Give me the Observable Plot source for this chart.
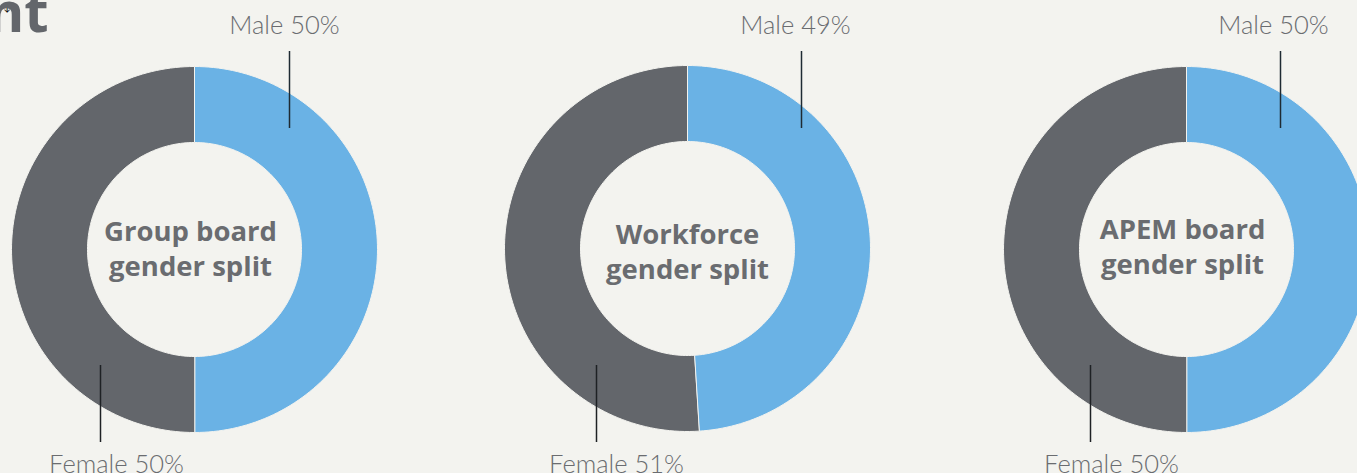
<!DOCTYPE html>
<html>
<head>
<meta charset="utf-8">
<script src="https://cdn.jsdelivr.net/npm/d3@7"></script>
<script src="https://cdn.jsdelivr.net/npm/@observablehq/plot@0.6"></script>
<style>
  html, body { margin: 0; padding: 0; background: #f3f3ef; overflow: hidden; }
</style>
</head>
<body>
<div id="chart"></div>
<script>
// ---- data ----
const charts = ["Group board\ngender split", "Workforce\ngender split", "APEM board\ngender split"];
const genders = ["Male", "Female"];
const maleValues = [50, 49, 50];
const femaleValues = [50, 51, 50];
const titleFragment = "nt";

// ---- layout ----
const W = 1357, H = 473;
const bg = "#f3f3ef";
const blue = "#6ab2e5";
const gray = "#63666b";
const textGray = "#6a6c70";
const centersX = [194, 687, 1186];
const centersY = [249, 248, 249];
const rOuter = 183, rInner = 107;
const maleLineX = [95, 114, 94];
const femaleLineX = [-94, -91, -96];
const maleLabelDX = [-5, -6, -7];
const femaleLabelDX = [16, 20, 21];
const centerTextDX = [-4, 0, -4];
const centerTextDY = [-2, 2, -4];

// build arc polygons from values
const arcs = [];
charts.forEach((c, i) => {
  const vals = [maleValues[i], femaleValues[i]];
  const total = d3.sum(vals);
  let a = 0;
  vals.forEach((v, j) => {
    const a0 = a, a1 = a + (v / total) * 2 * Math.PI;
    a = a1;
    const key = i + "-" + genders[j];
    const n = 120;
    for (let k = 0; k <= n; k++) {
      const t = a0 + (a1 - a0) * k / n;
      arcs.push({key, gender: genders[j], x: centersX[i] + rOuter * Math.sin(t), y: centersY[i] - rOuter * Math.cos(t)});
    }
    for (let k = n; k >= 0; k--) {
      const t = a0 + (a1 - a0) * k / n;
      arcs.push({key, gender: genders[j], x: centersX[i] + rInner * Math.sin(t), y: centersY[i] - rInner * Math.cos(t)});
    }
  });
});

const centerLabels = charts.map((c, i) => ({text: c, x: centersX[i] + centerTextDX[i], y: centersY[i] + centerTextDY[i]}));
const maleLabels = charts.map((c, i) => ({text: `Male ${maleValues[i]}%`, x: centersX[i] + maleLineX[i] + maleLabelDX[i], lx: centersX[i] + maleLineX[i]}));
const femaleLabels = charts.map((c, i) => ({text: `Female ${femaleValues[i]}%`, x: centersX[i] + femaleLineX[i] + femaleLabelDX[i], lx: centersX[i] + femaleLineX[i]}));

const plot = Plot.plot({
  width: W,
  height: H,
  margin: 0,
  x: {type: "identity"},
  y: {type: "identity"},
  color: {domain: genders, range: [blue, gray]},
  style: {background: bg, fontFamily: "Lato, 'Open Sans', sans-serif"},
  marks: [
    Plot.line(arcs, {x: "x", y: "y", z: "key", fill: "gender", stroke: bg, strokeWidth: 1, curve: "linear-closed"}),
    Plot.ruleX(maleLabels, {x: "lx", y1: 51, y2: 128, stroke: "#1e2a33", strokeWidth: 1.5}),
    Plot.ruleX(femaleLabels, {x: "lx", y1: 365, y2: 442, stroke: "#1e2124", strokeWidth: 1.5}),
    Plot.text(maleLabels, {x: "x", y: 33, text: "text", fontSize: 25.5, fontWeight: 300, fill: textGray, lineAnchor: "bottom", textAnchor: "middle"}),
    Plot.text(femaleLabels, {x: "x", y: 472, text: "text", fontSize: 25.5, fontWeight: 300, fill: textGray, lineAnchor: "bottom", textAnchor: "middle"}),
    Plot.text(centerLabels, {x: "x", y: "y", text: "text", fontSize: 27.5, fontWeight: "bold", fontFamily: "'Open Sans', sans-serif", fill: textGray, lineHeight: 1.28, textAnchor: "middle", lineAnchor: "middle"}),
    Plot.text([titleFragment], {x: 48, y: 31, text: d => d, fontSize: 56, fontWeight: "bold", fontFamily: "'Open Sans', sans-serif", fill: "#63666b", textAnchor: "end", lineAnchor: "bottom"})
  ]
});
document.getElementById("chart").appendChild(plot);
</script>
</body>
</html>
